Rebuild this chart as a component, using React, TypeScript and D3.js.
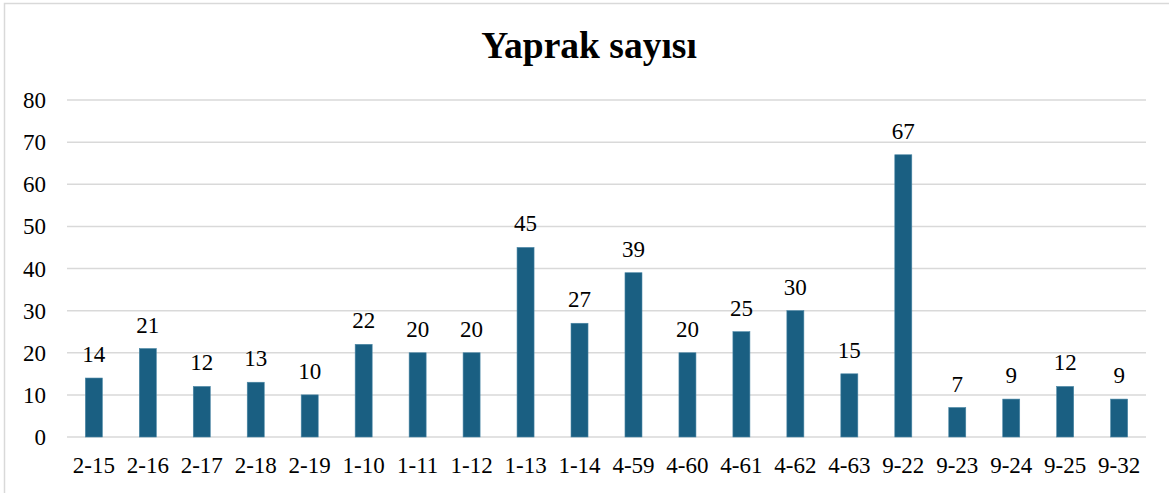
import React from "react";
import * as d3 from "d3";

const categories = ["2-15","2-16","2-17","2-18","2-19","1-10","1-11","1-12","1-13","1-14","4-59","4-60","4-61","4-62","4-63","9-22","9-23","9-24","9-25","9-32"];
const values = [14,21,12,13,10,22,20,20,45,27,39,20,25,30,15,67,7,9,12,9];
const yTicks = [0,10,20,30,40,50,60,70,80];
const title = "Yaprak sayısı";

export default function App() {
  const W = 1169, H = 493;
  const left = 67, right = 1146, top = 100, bottom = 437;
  const x = d3.scaleBand<string>().domain(categories).range([left, right]).paddingInner(0.685).paddingOuter(0.34);
  const y = d3.scaleLinear().domain([0, 80]).range([bottom, top]);
  const ts: React.CSSProperties = { fontFamily: "Liberation Serif, Times New Roman, serif" };
  const fs = 23;
  return (
    <svg width={W} height={H} style={{ position: "absolute", left: 0, top: 0, background: "#fff" }}>
      <rect x={4.5} y={3.5} width={1180} height={510} fill="#fff" stroke="#d9d9d9" strokeWidth={1.5} />
      <text x={589} y={58} textAnchor="middle" fontSize={37.5} fontWeight="bold" fill="#000" style={ts}>{title}</text>
      {yTicks.map(t => (
        <g key={t}>
          <line x1={left} x2={right} y1={y(t)} y2={y(t)} stroke="#d9d9d9" strokeWidth={1.5} />
          <text x={46} y={y(t) + 8} textAnchor="end" fontSize={fs} fill="#000" style={ts}>{t}</text>
        </g>
      ))}
      {categories.map((c, i) => (
        <g key={c}>
          <rect x={x(c)} y={y(values[i])} width={x.bandwidth()} height={y(0) - y(values[i])} fill="#1a5f82" stroke="#4a86a5" strokeWidth={0.6} />
          <text x={(x(c) as number) + x.bandwidth() / 2} y={y(values[i]) - 16} textAnchor="middle" fontSize={fs} fill="#000" style={ts}>{values[i]}</text>
          <text x={(x(c) as number) + x.bandwidth() / 2} y={473} textAnchor="middle" fontSize={fs} fill="#000" style={ts}>{c}</text>
        </g>
      ))}
    </svg>
  );
}
